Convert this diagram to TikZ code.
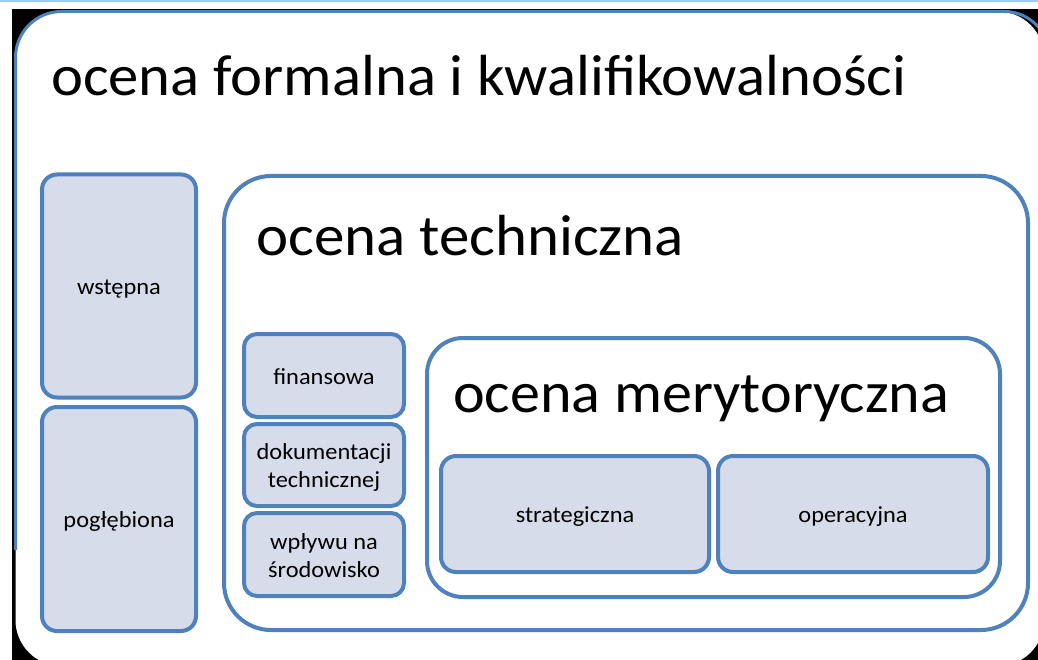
\documentclass[tikz,border=0pt]{standalone}
\usepackage{fontspec}
\setmainfont{Carlito}
\definecolor{bord}{RGB}{79,129,189}
\definecolor{fillc}{RGB}{214,220,233}
\definecolor{topline}{RGB}{153,204,255}
\tikzset{
  smallbox/.style={draw=bord, line width=4pt, fill=fillc, rounded corners=15pt, align=center, inner sep=0pt},
  bigbox/.style={draw=bord, line width=4pt, fill=white, inner sep=0pt},
  title/.style={anchor=base west, inner sep=0pt, text=black, font=\fontsize{58}{60}\selectfont}
}
\newcommand{\stxt}[1]{\raisebox{-3pt}[\height][\depth]{\scalebox{1.06}[1]{\fontsize{23}{28}\selectfont\begin{tabular}{@{}c@{}}#1\end{tabular}}}}
\begin{document}
\begin{tikzpicture}[x=1pt,y=-1pt]
\useasboundingbox (0,0) rectangle (1038,660);
\fill[white] (0,0) rectangle (1038,660);
\fill[topline] (0,0) rectangle (1038,2.5);
\fill[black] (12,9) rectangle (1038,660);
\begin{scope}
\clip (0,0) rectangle (1038,660);
\fill[white, rounded corners=46pt] (15.5,11.5) rectangle (1044,666);
\draw[bord, line width=3pt, rounded corners=46pt] (15.5,550) -- (15.5,11.5) -- (1050,11.5) -- (1050,300);
\end{scope}
\node[title] (t1) at (51,96) {\scalebox{1.045}[1]{ocena formalna i kwalifikowalności}};
% left column
\node[smallbox, minimum width=154pt, minimum height=223pt] (wst) at (119,286) {\stxt{wstępna}};
\node[smallbox, minimum width=154pt, minimum height=224pt] (pog) at (119,519) {\stxt{pogłębiona}};
% technical
\node[bigbox, rounded corners=47pt, minimum width=804pt, minimum height=454pt] (tech) at (626,403) {};
\node[title] (t2) at (256,256) {\scalebox{1.05}[1]{ocena techniczna}};
\node[smallbox, rounded corners=13pt, minimum width=160pt, minimum height=83pt] (fin) at (324,375.5) {\stxt{finansowa}};
\node[smallbox, rounded corners=13pt, minimum width=160pt, minimum height=82pt] (dok) at (324,465) {\stxt{dokumentacji\\technicznej}};
\node[smallbox, rounded corners=13pt, minimum width=160pt, minimum height=83pt] (wpl) at (324,554.5) {\stxt{wpływu na\\środowisko}};
% merit
\node[bigbox, rounded corners=36pt, minimum width=573pt, minimum height=259pt] (mer) at (713.5,467.5) {};
\node[title] (t3) at (453,412) {\scalebox{1.036}[1]{ocena merytoryczna}};
\node[smallbox, minimum width=268pt, minimum height=116pt] (str) at (575,514) {\stxt{strategiczna}};
\node[smallbox, minimum width=270pt, minimum height=116pt] (ope) at (853,514) {\stxt{operacyjna}};
\end{tikzpicture}
\end{document}
